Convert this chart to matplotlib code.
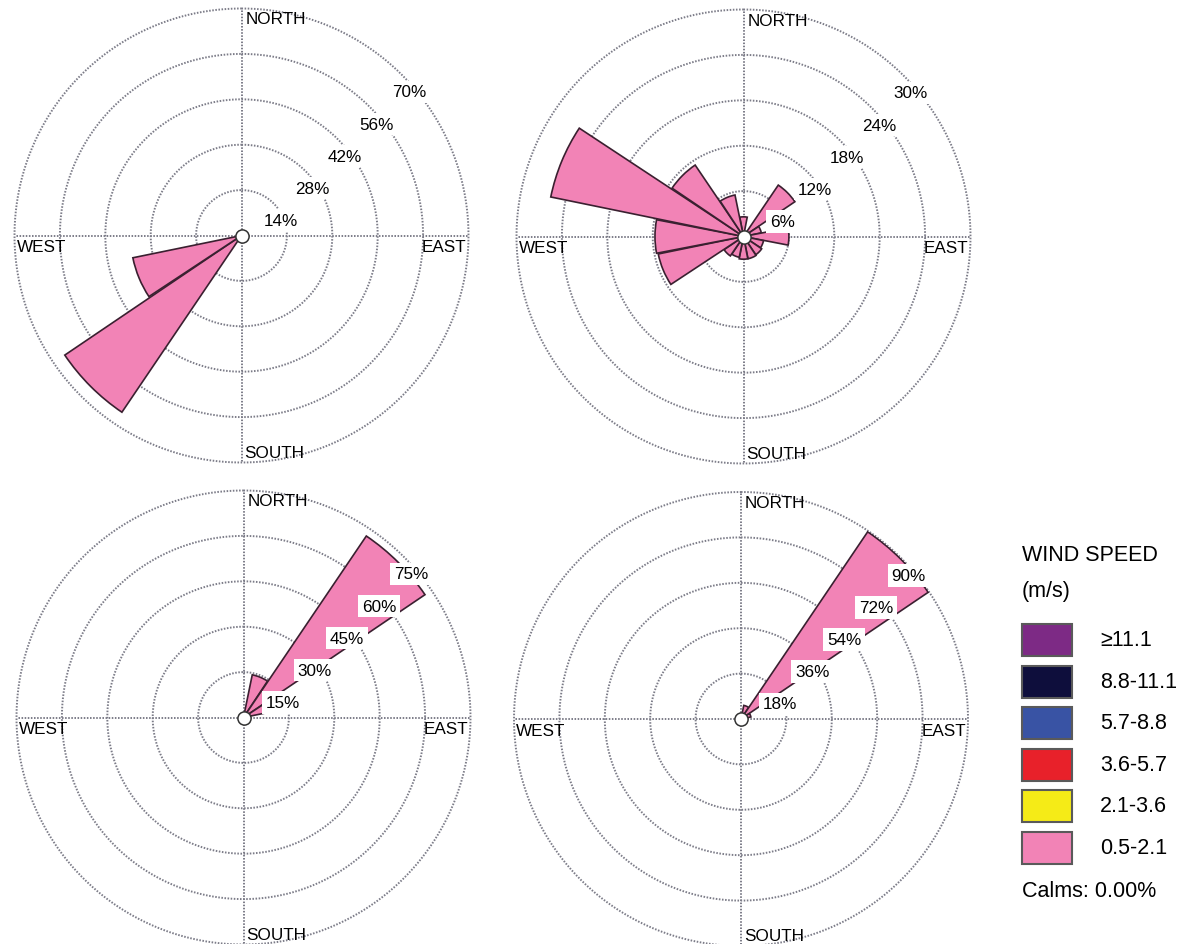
import numpy as np
import matplotlib
matplotlib.use("Agg")
import matplotlib.pyplot as plt
from matplotlib.patches import Rectangle

plt.rcParams['font.family'] = ['Liberation Sans', 'DejaVu Sans']

W, H = 1190, 945

# 16 compass sectors, clockwise from north
directions = ["N", "NNE", "NE", "ENE", "E", "ESE", "SE", "SSE",
              "S", "SSW", "SW", "WSW", "W", "WNW", "NW", "NNW"]

# frequency (%) of 0.5-2.1 m/s winds per sector, one list per rose
rose_top_left = [0, 0, 0, 0, 0, 0, 0, 0, 0, 0, 65.8, 34.2, 0, 0, 0, 0]
rose_top_right = [2.6, 0, 8.2, 2.4, 6.0, 2.7, 2.9, 3.0,
                  3.0, 2.8, 3.1, 11.5, 11.7, 26.0, 11.4, 5.6]
rose_bottom_left = [0, 14.4, 72.4, 12.0, 1.2, 0, 0, 0, 0, 0, 0, 0, 0, 0, 0, 0]
rose_bottom_right = [0, 5.5, 89.6, 4.0, 0.9, 0, 0, 0, 0, 0, 0, 0, 0, 0, 0, 0]

# spacing of the percentage rings for each rose
ring_top_left = 14
ring_top_right = 6
ring_bottom_left = 15
ring_bottom_right = 18

speed_bins = ["\u226511.1", "8.8-11.1", "5.7-8.8", "3.6-5.7", "2.1-3.6", "0.5-2.1"]
bin_colors = ["#7d2a85", "#0e0e3c", "#3953a4", "#e8212a", "#f5eb17", "#f283b6"]
calms = 0.00

pink = bin_colors[-1]
grid_c = "#7c7c88"
R = 227  # rose radius in pixels
fs = 12.3

fig = plt.figure(figsize=(W / 100, H / 100), dpi=100)


def draw_rose(cx, cy, values, step):
    ax = fig.add_axes([(cx - R) / W, (H - cy - R) / H, 2 * R / W, 2 * R / H],
                      projection='polar')
    ax.set_theta_zero_location('N')
    ax.set_theta_direction(-1)
    rmax = step * 5
    ax.set_ylim(0, rmax)
    ax.axis('off')

    # dotted rings and the two cross lines
    t = np.linspace(0, 2 * np.pi, 400)
    for k in range(1, 6):
        ax.plot(t, np.full_like(t, step * k), color=grid_c, lw=1.4,
                ls=(0, (0.8, 0.8)), clip_on=False, zorder=1)
    for a in range(4):
        ax.plot([a * np.pi / 2] * 2, [0, rmax], color=grid_c, lw=1.4,
                ls=(0, (0.8, 0.8)), clip_on=False, zorder=1)

    vals = np.array(values, dtype=float)
    theta = np.deg2rad(np.arange(len(directions)) * 22.5)
    keep = vals > 0
    ax.bar(theta[keep], vals[keep], width=np.deg2rad(22.5) * 0.97, bottom=0,
           color=pink, edgecolor="#3a2030", lw=1.2, zorder=3)
    ax.plot(0, 0, 'o', ms=9.5, mfc='white', mec='#333333', mew=1.1, zorder=5,
            clip_on=False)

    for k in range(1, 6):
        ax.annotate(f"{step * k}%", xy=(np.pi / 4, step * k), xytext=(5, -12.2),
                    textcoords='offset points', ha='center', va='center',
                    fontsize=fs, zorder=6,
                    bbox=dict(boxstyle='square,pad=0.22', fc='white', ec='none'))

    d = 2 * R
    ax.text(0.5 + 4 / d, 1 - 3 / d, "NORTH", transform=ax.transAxes,
            ha='left', va='top', fontsize=fs)
    ax.text(2 / d, 0.5 - 4 / d, "WEST", transform=ax.transAxes,
            ha='left', va='top', fontsize=fs)
    ax.text(1 - 2 / d, 0.5 - 4 / d, "EAST", transform=ax.transAxes,
            ha='right', va='top', fontsize=fs)
    ax.text(0.5 + 3 / d, 5.5 / d, "SOUTH", transform=ax.transAxes,
            ha='left', va='baseline', fontsize=fs)
    return ax


draw_rose(241.5, 236.5, rose_top_left, ring_top_left)
draw_rose(743.5, 237.5, rose_top_right, ring_top_right)
draw_rose(243.5, 718.5, rose_bottom_left, ring_bottom_left)
draw_rose(741, 720, rose_bottom_right, ring_bottom_right)

# legend
fig.text(1022 / W, 1 - 556 / H, "WIND SPEED", ha='left', va='center', fontsize=15.5)
fig.text(1022 / W, 1 - 591 / H, "(m/s)", ha='left', va='center', fontsize=15.5)
for i, (lab, col) in enumerate(zip(speed_bins, bin_colors)):
    yc = 641 + i * 41.5
    fig.add_artist(Rectangle((1022 / W, 1 - (yc + 16) / H), 50 / W, 32 / H,
                             transform=fig.transFigure, facecolor=col,
                             edgecolor='#5a5a5a', lw=1.5))
    fig.text(1100 / W, 1 - yc / H, lab, ha='left', va='center', fontsize=15.5)
fig.text(1022 / W, 1 - 892 / H, f"Calms: {calms:.2f}%", ha='left', va='center',
         fontsize=15.5)

fig.savefig("out.png", dpi=100, facecolor='white')
